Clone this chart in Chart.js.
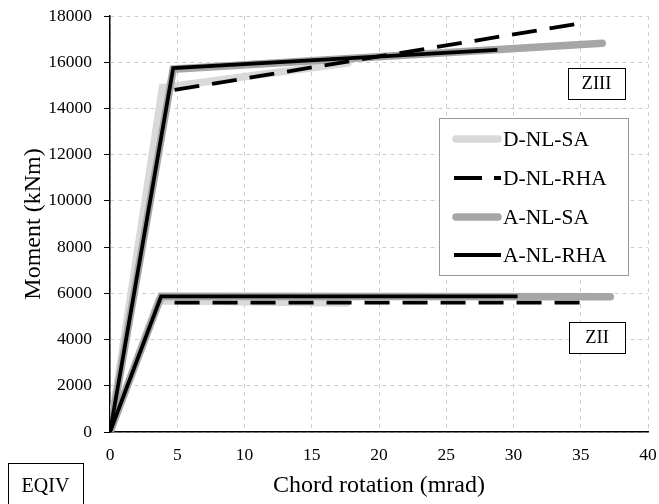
<!DOCTYPE html>
<html>
<head>
<meta charset="utf-8">
<script src="https://cdn.jsdelivr.net/npm/chart.js@4.4.1/dist/chart.umd.min.js"></script>
<style>
  html,body{margin:0;padding:0;background:#fff;}
  #wrap{position:relative;width:659px;height:504px;}
</style>
</head>
<body>
<div id="wrap"><canvas id="c" width="659" height="504"></canvas></div>
<script>
// ----- data (rotation in mrad, moment in kNm) -----
// ZIII (upper group)
const rotDSA3 = [0, 3.9, 17.7];   const momDSA3 = [0, 14900, 15970];
const rotDRHA3 = [4.8, 35.2];     const momDRHA3 = [14800, 17700];   // rising branch hidden under the others
const rotASA3 = [0, 4.7, 36.6];   const momASA3 = [0, 15700, 16820];
const rotARHA3 = [0, 4.7, 28.8];  const momARHA3 = [0, 15750, 16530];
// ZII (lower group)
const rotDSA2 = [0, 3.6, 17.6];   const momDSA2 = [0, 5680, 5580];
const rotDRHA2 = [4.8, 35.7];     const momDRHA2 = [5600, 5600];
const rotASA2 = [0, 3.8, 37.2];   const momASA2 = [0, 5870, 5850];
const rotARHA2 = [0, 3.8, 30.3];  const momARHA2 = [0, 5870, 5870];

const seriesNames = ["D-NL-SA", "D-NL-RHA", "A-NL-SA", "A-NL-RHA"];
const xTicks = [0, 5, 10, 15, 20, 25, 30, 35, 40];
const yTicks = [0, 2000, 4000, 6000, 8000, 10000, 12000, 14000, 16000, 18000];

const FONT = "'Liberation Serif','Times New Roman',serif";
const pts = (xs, ys) => xs.map((x, i) => ({x: x, y: ys[i]}));

const styles = {
  "D-NL-SA":  {borderColor:"#d9d9d9", borderWidth:7.5, borderCapStyle:"round", borderDash:[]},
  "D-NL-RHA": {borderColor:"#000000", borderWidth:3.8, borderCapStyle:"butt", borderDash:[25,13]},
  "A-NL-SA":  {borderColor:"#a6a6a6", borderWidth:7.5, borderCapStyle:"round", borderDash:[]},
  "A-NL-RHA": {borderColor:"#000000", borderWidth:3.8, borderCapStyle:"butt", borderDash:[]}
};

function ds(name, xs, ys, order){
  return Object.assign({
    label: name, data: pts(xs, ys), showLine: true, fill: false,
    pointRadius: 0, pointHoverRadius: 0, tension: 0,
    borderJoinStyle: "miter", order: order
  }, styles[name]);
}

// draw order: light gray bottom, black solid on top
const datasets = [
  ds("D-NL-SA", rotDSA3, momDSA3, 4), ds("D-NL-SA", rotDSA2, momDSA2, 4),
  ds("A-NL-SA", rotASA3, momASA3, 3), ds("A-NL-SA", rotASA2, momASA2, 3),
  ds("D-NL-RHA", rotDRHA3, momDRHA3, 2), ds("D-NL-RHA", rotDRHA2, momDRHA2, 2),
  ds("A-NL-RHA", rotARHA3, momARHA3, 1), ds("A-NL-RHA", rotARHA2, momARHA2, 1)
];

// ----- boxes + legend drawn on top -----
function textBox(ctx, x, y, w, h, txt, size){
  ctx.save();
  ctx.fillStyle = "#fff";
  ctx.fillRect(x, y, w, h);
  ctx.strokeStyle = "#000"; ctx.lineWidth = 1;
  ctx.strokeRect(x + 0.5, y + 0.5, w, h);
  ctx.fillStyle = "#000";
  ctx.font = size + "px " + FONT;
  ctx.textAlign = "center"; ctx.textBaseline = "middle";
  ctx.fillText(txt, x + w / 2, y + h / 2 + 1);
  ctx.restore();
}

const overlay = {
  id: "overlay",
  afterDraw(chart){
    const ctx = chart.ctx;
    textBox(ctx, 568, 68, 57, 31, "ZIII", 18.5);
    textBox(ctx, 569, 322, 56, 31, "ZII", 18.5);
    textBox(ctx, 8, 463, 75, 45, "EQIV", 20);

    // legend
    ctx.save();
    ctx.fillStyle = "#fff";
    ctx.fillRect(439, 118, 189, 157);
    ctx.strokeStyle = "#999"; ctx.lineWidth = 1;
    ctx.strokeRect(439.5, 118.5, 189, 157);
    const rows = [139, 178, 217, 255];
    seriesNames.forEach((name, i) => {
      const st = styles[name], y = rows[i];
      ctx.beginPath();
      ctx.strokeStyle = st.borderColor;
      ctx.lineWidth = st.borderWidth;
      ctx.lineCap = st.borderCapStyle;
      if (name === "D-NL-RHA") {
        ctx.moveTo(454, y); ctx.lineTo(482, y);
        ctx.moveTo(494, y); ctx.lineTo(501, y);
      } else if (st.borderCapStyle === "round") {
        ctx.moveTo(456, y); ctx.lineTo(498, y);
      } else {
        ctx.moveTo(454, y); ctx.lineTo(501, y);
      }
      ctx.stroke();
      ctx.fillStyle = "#000";
      ctx.font = "21.5px " + FONT;
      ctx.textAlign = "left"; ctx.textBaseline = "middle";
      ctx.fillText(name, 503, y + 1);
    });
    ctx.restore();
  }
};

const gridOpts = {color:"#cfcfcf", lineWidth:1};

new Chart(document.getElementById("c"), {
  type: "scatter",
  data: {datasets: datasets},
  plugins: [overlay],
  options: {
    responsive: false,
    animation: false,
    events: [],
    layout: {padding: {top: 16, right: 11, left: 0, bottom: 0}},
    plugins: {legend: {display: false}, tooltip: {enabled: false}},
    scales: {
      x: {
        type: "linear", min: 0, max: 40,
        afterBuildTicks: (s) => { s.ticks = xTicks.map(v => ({value: v})); },
        afterFit: (s) => { s.height = 72; s.paddingLeft = 0; s.paddingRight = 0; },
        grid: Object.assign({drawTicks: false}, gridOpts),
        border: {display: true, color: "#000", width: 1.5, dash: [4, 4]},
        ticks: {color: "#000", padding: 13, font: {family: FONT, size: 17.5}, maxRotation: 0,
                callback: (v) => String(v)},
        title: {display: true, text: "Chord rotation (mrad)", color: "#000",
                font: {family: FONT, size: 24}, padding: {top: 0, bottom: 4}}
      },
      y: {
        type: "linear", min: 0, max: 18000,
        afterBuildTicks: (s) => { s.ticks = yTicks.map(v => ({value: v})); },
        afterFit: (s) => { s.width = 110; s.paddingTop = 0; s.paddingBottom = 0; },
        grid: Object.assign({drawTicks: true, tickLength: 6, tickColor: "#000"}, gridOpts),
        border: {display: true, color: "#000", width: 1.5, dash: [4, 4]},
        ticks: {color: "#000", padding: 12, font: {family: FONT, size: 17.5},
                callback: (v) => String(v)},
        title: {display: true, text: "Moment (kNm)", color: "#000",
                font: {family: FONT, size: 24}, padding: {top: 19, bottom: 0}}
      }
    }
  }
});
</script>
</body>
</html>
